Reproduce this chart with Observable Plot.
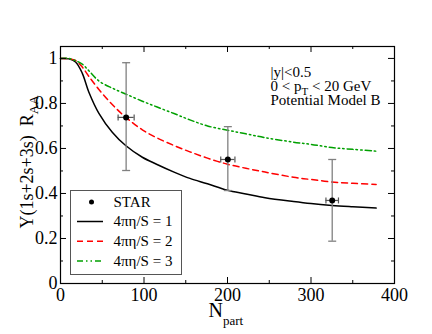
<!DOCTYPE html>
<html>
<head>
<meta charset="utf-8">
<script src="https://cdn.jsdelivr.net/npm/d3@7"></script>
<script src="https://cdn.jsdelivr.net/npm/@observablehq/plot@0.6"></script>
<style>
  html, body { margin: 0; padding: 0; background: white; }
</style>
</head>
<body>
<div id="chart"></div>
<script>
// ---- data ----
const curveNpart = [0, 10, 18, 26, 34, 46, 62, 78, 98, 115, 136, 155, 176, 200, 222, 245, 279, 300, 325, 350, 378];
const raaEta1 = [1.0, 0.998, 0.984, 0.935, 0.850, 0.756, 0.672, 0.613, 0.561, 0.530, 0.495, 0.467, 0.443, 0.414, 0.398, 0.381, 0.364, 0.355, 0.347, 0.341, 0.335];
const raaEta2 = [1.0, 0.999, 0.991, 0.962, 0.920, 0.862, 0.795, 0.739, 0.683, 0.648, 0.613, 0.585, 0.557, 0.530, 0.512, 0.495, 0.472, 0.462, 0.451, 0.445, 0.440];
const raaEta3 = [1.0, 1.0, 0.990, 0.975, 0.945, 0.900, 0.868, 0.842, 0.810, 0.785, 0.755, 0.727, 0.700, 0.681, 0.665, 0.648, 0.628, 0.618, 0.604, 0.596, 0.588];

const starNpart = [78.6, 200.4, 325.4];
const starNpartErr = [9.6, 8.5, 7.5];
const starRaa = [0.738, 0.551, 0.369];
const starRaaLow = [0.502, 0.413, 0.188];
const starRaaHigh = [0.981, 0.697, 0.551];

const xMajor = [0, 100, 200, 300, 400];
const xMinor = [50, 150, 250, 350];
const yMajor = [0, 0.2, 0.4, 0.6, 0.8, 1.0];
const yMinor = [0.1, 0.3, 0.5, 0.7, 0.9];

const legendLabels = ["STAR", "4πη/S = 1", "4πη/S = 2", "4πη/S = 3"];
const annotationLines = ["|y|<0.5", "0 < pT < 20 GeV", "Potential Model B"];

// ---- build tables ----
const seriesStyle = [
  {values: raaEta1, stroke: "black", dash: null},
  {values: raaEta2, stroke: "#ff0000", dash: "6,4"},
  {values: raaEta3, stroke: "#00a000", dash: "6,3,1.5,3,1.5,3"}
];
const star = starNpart.map((x, i) => ({
  x, y: starRaa[i], lo: starRaaLow[i], hi: starRaaHigh[i],
  xlo: x - starNpartErr[i], xhi: x + starNpartErr[i]
}));

const W = 432, H = 334;
const mL = 60, mR = 38, mT = 46, mB = 51;
const pW = W - mL - mR, pH = H - mT - mB;

const hbar = {draw(ctx, size) { const r = Math.sqrt(size / Math.PI); ctx.moveTo(-r, 0); ctx.lineTo(r, 0); }};
const vbar = {draw(ctx, size) { const r = Math.sqrt(size / Math.PI); ctx.moveTo(0, -r); ctx.lineTo(0, r); }};

const marks = [];
// curves
seriesStyle.forEach(s => {
  marks.push(Plot.line(curveNpart.map((x, i) => ({x, y: s.values[i]})), {
    x: "x", y: "y", stroke: s.stroke, strokeWidth: 1.5,
    strokeDasharray: s.dash, curve: "catmull-rom"
  }));
});
// error bars
marks.push(Plot.ruleX(star, {x: "x", y1: "lo", y2: "hi", stroke: "#808080", strokeWidth: 1.3}));
marks.push(Plot.dot(star, {x: "x", y: "lo", symbol: hbar, r: 4, stroke: "#808080", fill: "none", strokeWidth: 1.3}));
marks.push(Plot.dot(star, {x: "x", y: "hi", symbol: hbar, r: 4, stroke: "#808080", fill: "none", strokeWidth: 1.3}));
marks.push(Plot.ruleY(star, {y: "y", x1: "xlo", x2: "xhi", stroke: "#555", strokeWidth: 1.2}));
marks.push(Plot.dot(star, {x: "xlo", y: "y", symbol: vbar, r: 3, stroke: "#555", fill: "none", strokeWidth: 1.2}));
marks.push(Plot.dot(star, {x: "xhi", y: "y", symbol: vbar, r: 3, stroke: "#555", fill: "none", strokeWidth: 1.2}));
marks.push(Plot.dot(star, {x: "x", y: "y", r: 3, fill: "black"}));

// frame and inner ticks
marks.push(Plot.frame({stroke: "black", strokeWidth: 1.2}));
marks.push(Plot.tickX(xMajor, {x: d => d, insetTop: pH - 6, stroke: "black"}));
marks.push(Plot.tickX(xMinor, {x: d => d, insetTop: pH - 3, stroke: "black"}));
marks.push(Plot.tickX(xMajor, {x: d => d, insetBottom: pH - 6, stroke: "black"}));
marks.push(Plot.tickX(xMinor, {x: d => d, insetBottom: pH - 3, stroke: "black"}));
marks.push(Plot.tickY(yMajor, {y: d => d, insetRight: pW - 6, stroke: "black"}));
marks.push(Plot.tickY(yMinor, {y: d => d, insetRight: pW - 3, stroke: "black"}));
marks.push(Plot.tickY(yMajor, {y: d => d, insetLeft: pW - 6, stroke: "black"}));
marks.push(Plot.tickY(yMinor, {y: d => d, insetLeft: pW - 3, stroke: "black"}));

// axes
marks.push(Plot.axisX({ticks: xMajor, tickSize: 0, tickPadding: 5, label: null, fontSize: 18, tickFormat: d => String(d)}));
marks.push(Plot.axisY({ticks: yMajor, tickSize: 0, tickPadding: 3, label: null, fontSize: 18,
  tickFormat: d => (d === 0 ? "0" : d === 1 ? "1" : d.toFixed(1))}));

// axis titles
marks.push(Plot.text(["YLABEL"], {text: () => "Υ(1s+2s+3s)\u00a0\u00a0RAA", frameAnchor: "left", rotate: -90,
  textAnchor: "middle", lineAnchor: "bottom", dx: -28, dy: -3, fontSize: 18}));
marks.push(Plot.text(["XLABEL"], {text: () => "Npart", frameAnchor: "bottom", textAnchor: "start",
  lineAnchor: "bottom", dx: -19, dy: 33, fontSize: 20}));

// annotation
const annBase = [76, 90, 104];
annotationLines.forEach((t, i) => {
  marks.push(Plot.text([t], {text: d => d, frameAnchor: "top-left", textAnchor: "start", lineAnchor: "bottom",
    dx: 210, dy: annBase[i] - mT, fontSize: 15}));
});

// legend
marks.push(Plot.frame({insetLeft: 10, insetRight: 213, insetTop: 144, insetBottom: 9, stroke: "#555", strokeWidth: 1}));
const legRow = [201.5, 221, 240.7, 260.4];
legendLabels.forEach((t, i) => {
  marks.push(Plot.text([t], {text: d => d, frameAnchor: "top-left", textAnchor: "start", lineAnchor: "middle",
    dx: 53, dy: legRow[i] - mT, fontSize: 15}));
});
marks.push(Plot.dot([legendLabels[0]], {frameAnchor: "top-left", dx: 31, dy: legRow[0] - mT, r: 2.5, fill: "black"}));
seriesStyle.forEach((s, i) => {
  marks.push(Plot.ruleY([0], {dy: legRow[i + 1] - (H - mB), insetLeft: 17, insetRight: pW - 43,
    stroke: s.stroke, strokeWidth: 1.5, strokeDasharray: s.dash}));
});

const chart = Plot.plot({
  width: W, height: H,
  marginLeft: mL, marginRight: mR, marginTop: mT, marginBottom: mB,
  x: {domain: [0, 400]},
  y: {domain: [0, 1.053]},
  style: {fontFamily: "'Liberation Serif', 'DejaVu Serif', serif", fontSize: "18px", color: "black", background: "white", overflow: "visible"},
  marks
});
document.getElementById("chart").appendChild(chart);

// subscripts as tspans
function subscriptify(full, parts) {
  d3.select(chart).selectAll("text").filter(function () { return this.textContent === full; }).each(function () {
    const el = d3.select(this);
    el.text(null);
    parts.forEach(p => {
      const ts = el.append("tspan").text(p.t);
      if (p.size) ts.attr("font-size", p.size);
      if (p.dy) ts.attr("dy", p.dy);
    });
  });
}
subscriptify("Υ(1s+2s+3s)\u00a0\u00a0RAA", [{t: "Υ(1s+2s+3s)\u00a0\u00a0R"}, {t: "AA", size: 13, dy: 5}]);
subscriptify("Npart", [{t: "N"}, {t: "part", size: 13, dy: 8}]);
subscriptify("0 < pT < 20 GeV", [{t: "0 < p"}, {t: "T", size: 11, dy: 4}, {t: " < 20 GeV", dy: -4}]);
</script>
</body>
</html>
